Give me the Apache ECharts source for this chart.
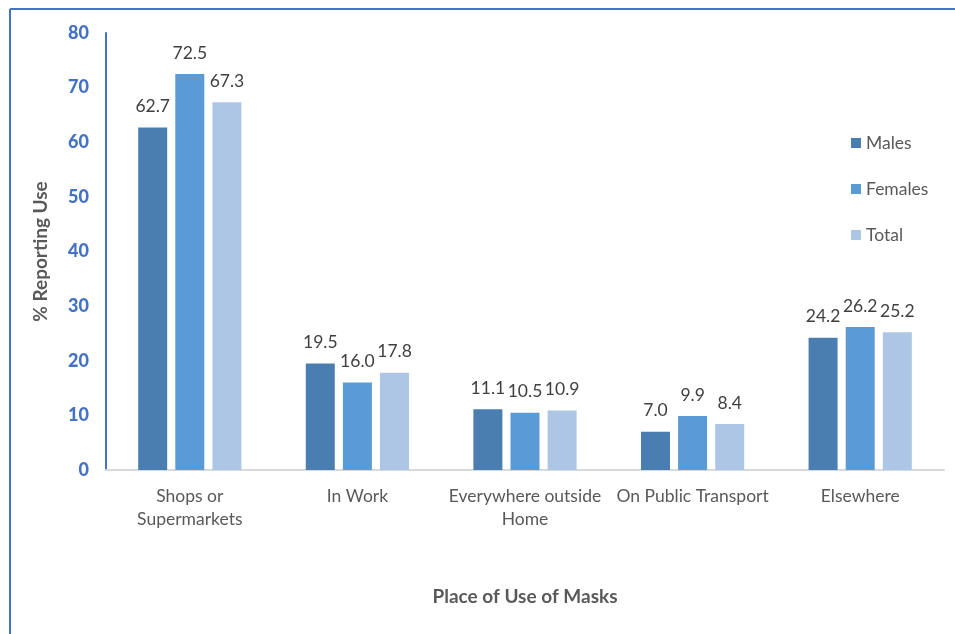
<!DOCTYPE html>
<html>
<head>
<meta charset="utf-8">
<script src="https://cdn.jsdelivr.net/npm/echarts@6/dist/echarts.min.js"></script>
<style>
html,body{margin:0;padding:0;background:#fff;}
#c{width:955px;height:634px;}
</style>
</head>
<body>
<div id="c"></div>
<script>
var categories = ['Shops or\nSupermarkets', 'In Work', 'Everywhere outside\nHome', 'On Public Transport', 'Elsewhere'];
var males = [62.7, 19.5, 11.1, 7.0, 24.2];
var females = [72.5, 16.0, 10.5, 9.9, 26.2];
var total = [67.3, 17.8, 10.9, 8.4, 25.2];
var yTicks = [0, 10, 20, 30, 40, 50, 60, 70, 80];

var FONT = 'Lato';
var chart = echarts.init(document.getElementById('c'));
function lbl() {
  return {show: true, position: 'top', distance: 12, color: '#404040', fontSize: 17.5, fontFamily: FONT,
    formatter: function (p) { return p.value.toFixed(1); }};
}
chart.setOption({
  animation: false,
  textStyle: {fontFamily: FONT},
  graphic: [
    {type: 'line', shape: {x1: 10, y1: 9, x2: 955, y2: 9}, style: {stroke: '#4472C4', lineWidth: 2}},
    {type: 'line', shape: {x1: 10, y1: 9, x2: 10, y2: 634}, style: {stroke: '#4472C4', lineWidth: 2}}
  ],
  legend: {
    orient: 'vertical', left: 846, top: 129,
    itemWidth: 10, itemHeight: 10, itemGap: 28,
    icon: 'rect',
    textStyle: {color: '#595959', fontSize: 17.5, fontFamily: FONT},
    data: ['Males', 'Females', 'Total']
  },
  grid: {left: 106, right: 11, top: 33, bottom: 164},
  xAxis: {
    type: 'category', data: categories,
    name: 'Place of Use of Masks', nameLocation: 'middle', nameGap: 117,
    nameTextStyle: {color: '#595959', fontSize: 19, fontWeight: 'bold', fontFamily: FONT},
    axisLine: {lineStyle: {color: '#d9d9d9', width: 2}},
    axisTick: {show: false},
    axisLabel: {color: '#595959', fontSize: 17.5, fontFamily: FONT, margin: 15, lineHeight: 23, interval: 0}
  },
  yAxis: {
    type: 'value', min: 0, max: 80, interval: 10,
    name: '% Reporting Use', nameLocation: 'middle', nameGap: 56,
    nameTextStyle: {color: '#595959', fontSize: 19, fontWeight: 'bold', fontFamily: FONT},
    axisLine: {show: true, lineStyle: {color: '#4472C4', width: 2}},
    axisTick: {show: false},
    splitLine: {show: false},
    axisLabel: {color: '#4472C4', fontSize: 18, fontWeight: 900, fontFamily: FONT, margin: 17,
      formatter: function (v) { return yTicks.indexOf(v) >= 0 ? String(v) : ''; }}
  },
  series: [
    {name: 'Males', type: 'bar', data: males, barWidth: 29, barGap: '28%', itemStyle: {color: '#4a7eb0'}, label: lbl()},
    {name: 'Females', type: 'bar', data: females, barWidth: 29, barGap: '28%', itemStyle: {color: '#5b9bd5'}, label: lbl()},
    {name: 'Total', type: 'bar', data: total, barWidth: 29, barGap: '28%', itemStyle: {color: '#adc6e6'}, label: lbl()}
  ]
});
</script>
</body>
</html>
